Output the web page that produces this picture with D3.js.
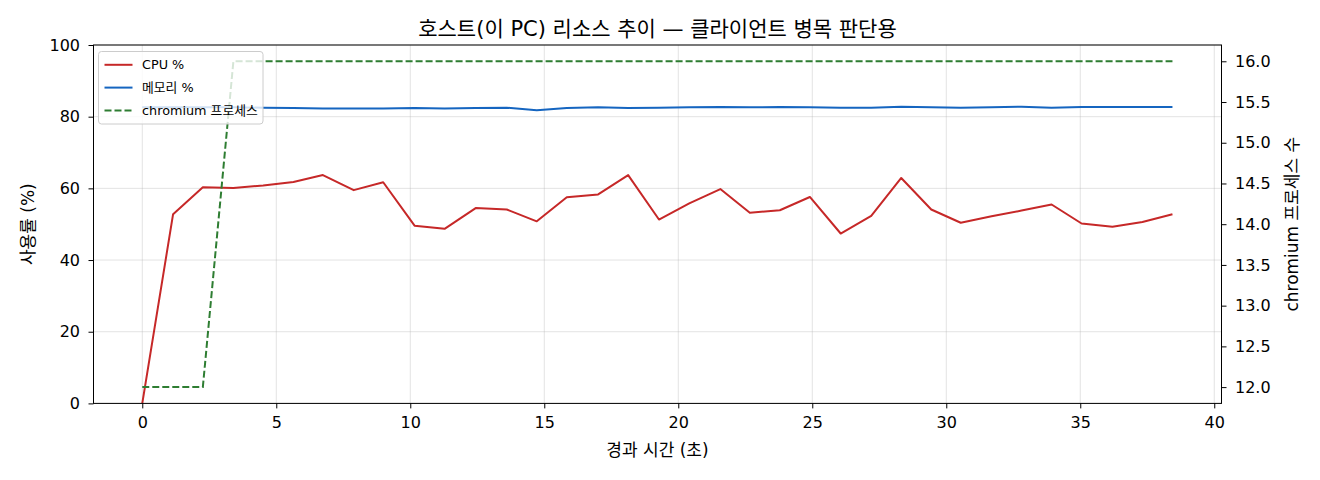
<!DOCTYPE html>
<html><head><meta charset="utf-8">
<script src="https://cdn.jsdelivr.net/npm/d3@7/dist/d3.min.js"></script>
<style>
body{margin:0;background:#fff;}
text{font-family:"DejaVu Sans","Noto Sans CJK KR",sans-serif;fill:#000;}
</style></head>
<body><svg id="c" width="1320" height="480"></svg>
<script>
const times = [0, 1.15, 2.26, 3.40, 4.51, 5.64, 6.74, 7.89, 8.99, 10.16, 11.28, 12.44, 13.60, 14.72, 15.84, 17.01, 18.13, 19.28, 20.41, 21.57, 22.67, 23.79, 24.91, 26.06, 27.20, 28.32, 29.44, 30.54, 31.69, 32.81, 33.93, 35.05, 36.20, 37.32, 38.44];
const cpu = [0, 52.8, 60.3, 60.1, 60.8, 61.8, 63.7, 59.5, 61.7, 49.6, 48.7, 54.5, 54.1, 50.8, 57.5, 58.3, 63.7, 51.3, 55.8, 59.8, 53.2, 53.9, 57.6, 47.4, 52.3, 62.9, 54.1, 50.4, 52.2, 53.8, 55.5, 50.2, 49.3, 50.6, 52.8];
const mem = [82.6, 82.6, 82.6, 82.6, 82.5, 82.4, 82.3, 82.3, 82.3, 82.4, 82.3, 82.4, 82.5, 81.8, 82.4, 82.6, 82.4, 82.5, 82.6, 82.7, 82.6, 82.7, 82.6, 82.5, 82.5, 82.8, 82.6, 82.5, 82.6, 82.8, 82.5, 82.7, 82.7, 82.7, 82.7];
const procs = [12, 12, 12, 16, 16, 16, 16, 16, 16, 16, 16, 16, 16, 16, 16, 16, 16, 16, 16, 16, 16, 16, 16, 16, 16, 16, 16, 16, 16, 16, 16, 16, 16, 16, 16];
const xDomain = [-1.82, 40.27];
const xTicks = [0, 5, 10, 15, 20, 25, 30, 35, 40];
const yTicks = [0, 20, 40, 60, 80, 100];
const y2Domain = [11.8, 16.2];
const y2Ticks = [12.0, 12.5, 13.0, 13.5, 14.0, 14.5, 15.0, 15.5, 16.0];
const title = "호스트(이 PC) 리소스 추이 — 클라이언트 병목 판단용";
const xLabel = "경과 시간 (초)";
const yLabel = "사용률 (%)";
const y2Label = "chromium 프로세스 수";
const seriesNames = ["CPU %", "메모리 %", "chromium 프로세스"];

const L = 93.5, R = 1221.5, T = 45, B = 403.4;
const svg = d3.select("#c");
const x = d3.scaleLinear().domain(xDomain).range([L, R]);
const y = d3.scaleLinear().domain([0, 100]).range([B, T]);
const y2 = d3.scaleLinear().domain(y2Domain).range([B, T]);

// grid
const g = svg.append("g");
g.selectAll(".gx").data(xTicks).join("line")
  .attr("x1", d => x(d)).attr("x2", d => x(d)).attr("y1", T).attr("y2", B)
  .attr("stroke", "#b0b0b0").attr("stroke-opacity", 0.35).attr("stroke-width", 1);
g.selectAll(".gy").data(yTicks).join("line")
  .attr("x1", L).attr("x2", R).attr("y1", d => y(d)).attr("y2", d => y(d))
  .attr("stroke", "#b0b0b0").attr("stroke-opacity", 0.35).attr("stroke-width", 1);

svg.append("defs").append("clipPath").attr("id", "clip")
  .append("rect").attr("x", L).attr("y", T).attr("width", R - L).attr("height", B - T);

const plot = svg.append("g").attr("clip-path", "url(#clip)");
const idx = d3.range(times.length);
const lw = 2;
plot.append("path").datum(idx)
  .attr("d", d3.line().x(i => x(times[i])).y(i => y(cpu[i])))
  .attr("fill", "none").attr("stroke", "#c62828").attr("stroke-width", lw).attr("stroke-linejoin", "round");
plot.append("path").datum(idx)
  .attr("d", d3.line().x(i => x(times[i])).y(i => y(mem[i])))
  .attr("fill", "none").attr("stroke", "#1565c0").attr("stroke-width", lw).attr("stroke-linejoin", "round");
plot.append("path").datum(idx)
  .attr("d", d3.line().x(i => x(times[i])).y(i => y2(procs[i])))
  .attr("fill", "none").attr("stroke", "#2e7d32").attr("stroke-width", lw)
  .attr("stroke-dasharray", "7,3");

// axes
const fs = 16;
const ax = svg.append("g").attr("transform", `translate(0,${B})`)
  .call(d3.axisBottom(x).tickValues(xTicks).tickSize(5).tickPadding(8.5).tickFormat(d3.format("d")));
const ayl = svg.append("g").attr("transform", `translate(${L},0)`)
  .call(d3.axisLeft(y).tickValues(yTicks).tickSize(5).tickPadding(8.5).tickFormat(d3.format("d")));
const ayr = svg.append("g").attr("transform", `translate(${R},0)`)
  .call(d3.axisRight(y2).tickValues(y2Ticks).tickSize(5).tickPadding(8.5).tickFormat(d3.format(".1f")));
[ax, ayl, ayr].forEach(a => {
  a.select(".domain").remove();
  a.selectAll(".tick line").attr("stroke", "#000").attr("stroke-width", 1);
  a.selectAll(".tick text").attr("font-size", fs).attr("font-family", '"DejaVu Sans",sans-serif').attr("fill", "#000");
});
// frame
svg.append("rect").attr("x", L).attr("y", T).attr("width", R - L).attr("height", B - T)
  .attr("fill", "none").attr("stroke", "#000").attr("stroke-width", 1);

// labels
const lfs = 17;
svg.append("text").attr("x", (L + R) / 2).attr("y", 36).attr("text-anchor", "middle")
  .attr("font-size", 21).text(title);
svg.append("text").attr("x", (L + R) / 2).attr("y", 456).attr("text-anchor", "middle")
  .attr("font-size", lfs).text(xLabel);
svg.append("text").attr("transform", `translate(34,${(T + B) / 2}) rotate(-90)`).attr("text-anchor", "middle")
  .attr("font-size", lfs).text(yLabel);
svg.append("text").attr("transform", `translate(1298,${(T + B) / 2}) rotate(-90)`).attr("text-anchor", "middle")
  .attr("font-size", lfs).text(y2Label);

// legend
const lg = svg.append("g").attr("transform", `translate(98.5,51.5)`);
lg.append("rect").attr("width", 164.5).attr("height", 72.5).attr("rx", 3)
  .attr("fill", "#fff").attr("fill-opacity", 0.8).attr("stroke", "#cccccc").attr("stroke-width", 1);
const cols = ["#c62828", "#1565c0", "#2e7d32"];
seriesNames.forEach((n, i) => {
  const yy = 13.3 + i * 22.8;
  lg.append("line").attr("x1", 6).attr("x2", 34).attr("y1", yy).attr("y2", yy)
    .attr("stroke", cols[i]).attr("stroke-width", lw)
    .attr("stroke-dasharray", i === 2 ? "7,3" : null);
  lg.append("text").attr("x", 43.5).attr("y", yy).attr("dy", "0.35em").attr("font-size", 12.8).text(n);
});
</script></body></html>
